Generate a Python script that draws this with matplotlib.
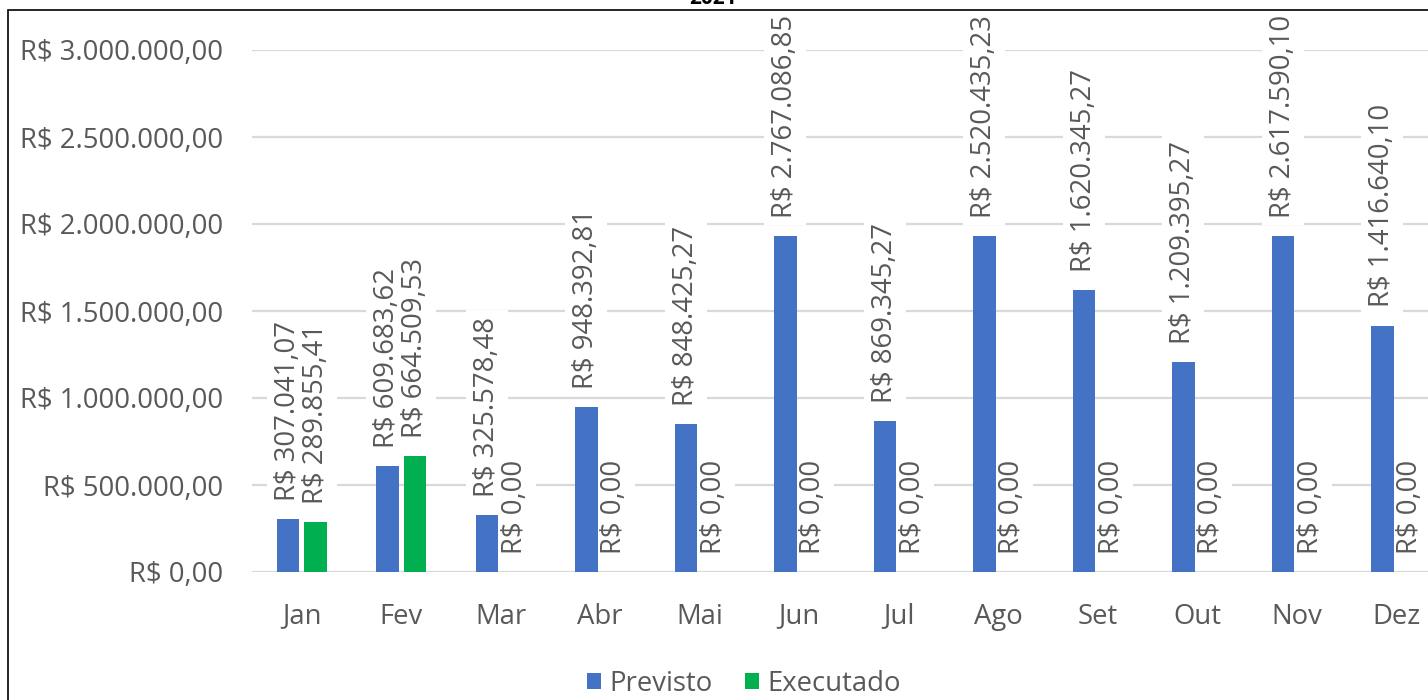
import matplotlib.pyplot as plt
from matplotlib.patches import Rectangle
import numpy as np

plt.rcParams['font.family'] = ['Open Sans', 'DejaVu Sans']

meses = ['Jan', 'Fev', 'Mar', 'Abr', 'Mai', 'Jun', 'Jul', 'Ago', 'Set', 'Out', 'Nov', 'Dez']
# valores dos rotulos
previsto = [307041.07, 609683.62, 325578.48, 948392.81, 848425.27, 2767086.85,
            869345.27, 2520435.23, 1620345.27, 1209395.27, 2617590.10, 1416640.10]
executado = [289855.41, 664509.53, 0, 0, 0, 0, 0, 0, 0, 0, 0, 0]
# altura das barras como aparecem no grafico (Jun, Ago, Nov ficam em ~1,93 mi)
altura_previsto = [307041.07, 609683.62, 325578.48, 948392.81, 848425.27, 1930000,
                   869345.27, 1930000, 1620345.27, 1209395.27, 1930000, 1416640.10]

AZUL = '#4472C4'
VERDE = '#00B050'
CINZA = '#595959'
FS = 19.8


def reais(v):
    inteiro, dec = f"{v:,.2f}".split('.')
    return "R$ " + inteiro.replace(',', '.') + "," + dec


fig = plt.figure(figsize=(14.28, 7), dpi=100)
ax = fig.add_axes([252 / 1428, 128 / 700, 1194 / 1428, 522 / 700])

x = np.arange(len(meses))
w = 0.226
off = 0.14
b1 = ax.bar(x - off, altura_previsto, w, color=AZUL, zorder=3, label='Previsto')
b2 = ax.bar(x + off, executado, w, color=VERDE, zorder=3, label='Executado')

ax.set_xlim(-0.5, 11.5)
ax.set_ylim(0, 3000000)
ax.set_yticks(np.arange(0, 3000001, 500000))
ax.set_yticklabels([reais(v) for v in ax.get_yticks()])
ax.set_xticks(x)
ax.set_xticklabels(meses)
ax.tick_params(length=0, labelsize=FS, labelcolor=CINZA)
ax.tick_params(axis='y', pad=21)
ax.tick_params(axis='x', pad=22)
for s in ax.spines.values():
    s.set_visible(False)
ax.grid(axis='y', color='#D9D9D9', linewidth=1.6, zorder=0)
ax.set_axisbelow(True)

# rotulos de dados
for rects, vals in [(b1, previsto), (b2, executado)]:
    for r, v in zip(rects, vals):
        xc = r.get_x() + r.get_width() / 2
        h = r.get_height()
        kw = dict(xy=(xc, h), xytext=(0, 13), textcoords='offset points',
                  rotation=90, ha='center', va='bottom', fontsize=FS,
                  annotation_clip=False)
        # caixa branca que corta a grade
        ax.annotate(reais(v), color=(1, 1, 1, 0), zorder=2,
                    bbox=dict(boxstyle='square,pad=0.25', fc='white', ec='none'), **kw)
        ax.annotate(reais(v), color=CINZA, zorder=4, **kw)

fig.legend(loc='center', bbox_to_anchor=(744 / 1428, 16 / 700), ncol=2, frameon=False,
           fontsize=FS, labelcolor=CINZA, handlelength=0.5, handleheight=0.5,
           handletextpad=0.3, columnspacing=1.2)

fig.text(713 / 1428, 1 - 4 / 700, '2021', ha='center', va='baseline',
         fontsize=15, fontweight='bold', color='black')

# moldura
fig.patches.append(Rectangle((7.5 / 1428, -0.1), 1.1, 1.1 - 10.5 / 700, transform=fig.transFigure,
                             fill=False, ec='black', lw=1.2))

fig.savefig('out.png', dpi=100)
